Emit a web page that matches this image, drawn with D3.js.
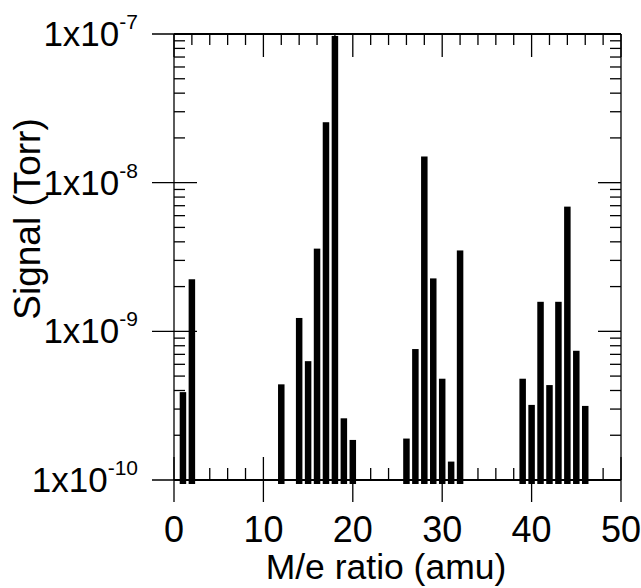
<!DOCTYPE html>
<html>
<head>
<meta charset="utf-8">
<script src="https://cdn.jsdelivr.net/npm/d3@7"></script>
<style>
  body { margin: 0; background: #fff; }
  text { font-family: "Liberation Sans", Arial, sans-serif; fill: #000; }
</style>
</head>
<body>
<div id="chart"></div>
<script>
// data
const massNumbers = [1, 2, 12, 14, 15, 16, 17, 18, 19, 20, 26, 27, 28, 29, 30, 31, 32, 39, 40, 41, 42, 43, 44, 45, 46];
const signalValues = [3.9e-10, 2.24e-9, 4.4e-10, 1.23e-9, 6.3e-10, 3.6e-9, 2.55e-8, 9.7e-8, 2.6e-10, 1.86e-10,
                      1.9e-10, 7.6e-10, 1.5e-8, 2.27e-9, 4.8e-10, 1.33e-10, 3.5e-9,
                      4.8e-10, 3.2e-10, 1.58e-9, 4.35e-10, 1.58e-9, 6.9e-9, 7.4e-10, 3.15e-10];
const xTickLabels = [0, 10, 20, 30, 40, 50];
const yExponents = [-10, -9, -8, -7];

const W = 641, H = 588;
const plotLeft = 174, plotRight = 621, plotTop = 34, plotBottom = 480;

const svg = d3.select("#chart").append("svg")
    .attr("width", W)
    .attr("height", H);

// scales
const x = d3.scaleLinear().domain([0, 50]).range([plotLeft, plotRight]);
const y = d3.scaleLog().domain([1e-10, 1e-7]).range([plotBottom, plotTop]);

// tick values
const xMinor = d3.range(2, 50, 2).filter(d => d % 10 !== 0);
const yMajor = yExponents.map(e => Math.pow(10, e));
const yMinor = [];
yExponents.slice(0, -1).forEach(e => {
    for (let k = 2; k <= 9; k++) yMinor.push(k * Math.pow(10, e));
});

const tw = 1.3;

// bars
const barW = 6.5;
svg.append("g").selectAll("rect")
    .data(massNumbers.map((m, i) => ({ m, v: signalValues[i] })))
    .enter().append("rect")
    .attr("x", d => x(d.m) - barW / 2)
    .attr("y", d => y(d.v))
    .attr("width", barW)
    .attr("height", d => y(1e-10) + 4 - y(d.v))
    .attr("fill", "#000");

// frame
const frame = svg.append("g").attr("stroke", "#000").attr("stroke-width", tw);
frame.append("line").attr("x1", plotLeft).attr("x2", plotRight).attr("y1", plotBottom).attr("y2", plotBottom).attr("stroke-width", 1.8);
frame.append("line").attr("x1", plotLeft).attr("x2", plotRight).attr("y1", plotTop).attr("y2", plotTop).attr("stroke-width", 1.8);
frame.append("line").attr("x1", plotLeft).attr("x2", plotLeft).attr("y1", plotTop).attr("y2", plotBottom);
frame.append("line").attr("x1", plotRight).attr("x2", plotRight).attr("y1", plotTop).attr("y2", plotBottom);

// bottom ticks: majors cross the axis, minors point inward
frame.selectAll(".xmajb").data(xTickLabels).enter().append("line")
    .attr("x1", d => x(d)).attr("x2", d => x(d))
    .attr("y1", plotBottom - 23).attr("y2", plotBottom + 22);
frame.selectAll(".xminb").data(xMinor).enter().append("line")
    .attr("x1", d => x(d)).attr("x2", d => x(d))
    .attr("y1", plotBottom - 12).attr("y2", plotBottom);
// top ticks: inward
frame.selectAll(".xmajt").data(xTickLabels).enter().append("line")
    .attr("x1", d => x(d)).attr("x2", d => x(d))
    .attr("y1", plotTop).attr("y2", plotTop + 23);
frame.selectAll(".xmint").data(xMinor).enter().append("line")
    .attr("x1", d => x(d)).attr("x2", d => x(d))
    .attr("y1", plotTop).attr("y2", plotTop + 11);

// left ticks: majors cross, minors inward
frame.selectAll(".ymajl").data(yMajor).enter().append("line")
    .attr("x1", plotLeft - 22).attr("x2", plotLeft + 23)
    .attr("y1", d => y(d)).attr("y2", d => y(d));
frame.selectAll(".yminl").data(yMinor).enter().append("line")
    .attr("x1", plotLeft).attr("x2", plotLeft + 11)
    .attr("y1", d => y(d)).attr("y2", d => y(d));
// right ticks: inward
frame.selectAll(".ymajr").data(yMajor).enter().append("line")
    .attr("x1", plotRight - 23).attr("x2", plotRight)
    .attr("y1", d => y(d)).attr("y2", d => y(d));
frame.selectAll(".yminr").data(yMinor).enter().append("line")
    .attr("x1", plotRight - 11).attr("x2", plotRight)
    .attr("y1", d => y(d)).attr("y2", d => y(d));

// x tick labels
svg.selectAll(".xlab").data(xTickLabels).enter().append("text")
    .attr("x", d => x(d))
    .attr("y", 542)
    .attr("text-anchor", "middle")
    .style("font-size", "36px")
    .text(d => d);

// y tick labels with superscript exponent
const ylab = svg.selectAll(".ylab").data(yExponents).enter().append("text")
    .attr("x", 138)
    .attr("y", d => y(Math.pow(10, d)) + 12)
    .attr("text-anchor", "end")
    .style("font-size", "35px");
ylab.append("tspan").text("1x10");
ylab.append("tspan")
    .attr("dy", -17)
    .style("font-size", "21px")
    .text(d => String(d));

// axis titles
svg.append("text")
    .attr("x", 386)
    .attr("y", 579)
    .attr("text-anchor", "middle")
    .style("font-size", "35.5px")
    .text("M/e ratio (amu)");

svg.append("text")
    .attr("transform", "translate(40,219) rotate(-90)")
    .attr("text-anchor", "middle")
    .style("font-size", "37px")
    .text("Signal (Torr)");
</script>
</body>
</html>
